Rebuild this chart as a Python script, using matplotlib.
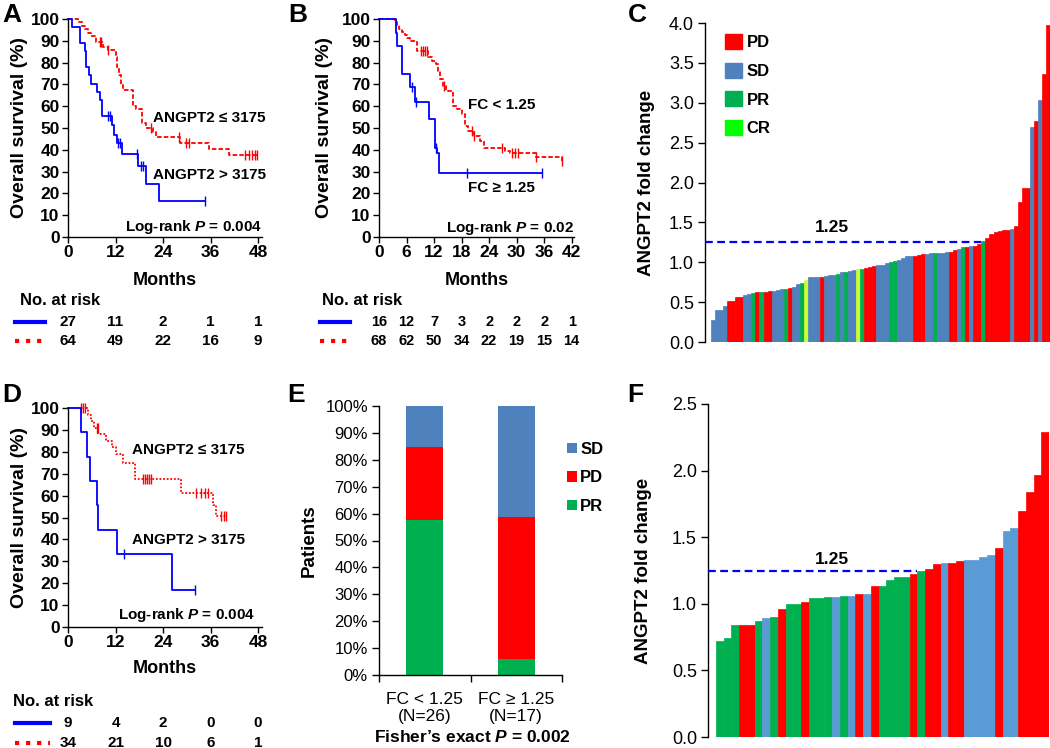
import matplotlib
matplotlib.use('Agg')
import matplotlib.pyplot as plt
import matplotlib.transforms as mtransforms
from matplotlib.lines import Line2D
from matplotlib.patches import Patch
from matplotlib.ticker import FormatStrFormatter
import numpy as np

plt.rcParams['font.family'] = ['Liberation Sans', 'DejaVu Sans']
plt.rcParams['font.weight'] = 'bold'
plt.rcParams['axes.labelweight'] = 'bold'
plt.rcParams['axes.linewidth'] = 1.0
plt.rcParams['mathtext.fontset'] = 'custom'
plt.rcParams['mathtext.rm'] = 'Liberation Sans:bold'
plt.rcParams['mathtext.it'] = 'Liberation Sans:italic:bold'
plt.rcParams['mathtext.bf'] = 'Liberation Sans:bold'

W, H = 1050, 748
BLUE = '#0000FF'
RED = '#FF0000'
COLORS_C = {'PD': '#FF0000', 'SD': '#4F81BD', 'PR': '#00B050', 'CR': '#CCFF33'}
COLORS_F = {'PD': '#FF0000', 'SD': '#5B9BD5', 'PR': '#00B050'}
LEGEND_C = {'PD': '#FF0000', 'SD': '#4F81BD', 'PR': '#00B050', 'CR': '#00FF00'}

# ---- panel A: ANGPT2 baseline, all patients
a_hi_t = [0, 1.0, 3.1, 4.2, 4.6, 5.3, 5.9, 7.2, 8.0, 8.6, 11.2, 11.6, 12.5, 13.7, 17.7, 19.8, 23.0]
a_hi_s = [100, 96.3, 88.9, 85.2, 77.8, 74.1, 70.4, 66.7, 63.0, 55.6, 51.5, 46.8, 42.9, 38.1, 32.7, 24.5, 16.4]
a_hi_cens = [10.1, 10.7, 12.7, 13.1, 17.5, 18.5, 19.0, 34.7]
a_hi_end = 34.7
a_lo_t = [0, 2.6, 3.5, 4.2, 5.0, 5.8, 7.0, 8.8, 10.0, 12.0, 12.4, 12.8, 13.3, 13.9,
          16.4, 17.3, 18.6, 19.6, 21.5, 22.3, 28.2, 35.6, 40.7]
a_lo_s = [100, 98.4, 96.9, 95.3, 93.8, 92.2, 89.6, 87.0, 85.8, 82.7, 78.0, 74.3, 69.7, 67.4,
          60.2, 58.5, 52.1, 49.8, 48.1, 45.9, 43.2, 40.5, 37.5]
a_lo_cens = [8.0, 8.4, 10.2, 21.0, 28.0, 29.9, 30.5, 44.8, 45.6, 46.4, 47.2, 47.8]
a_lo_end = 47.8
a_risk_ticks = [0, 12, 24, 36, 48]
a_risk_hi = [27, 11, 2, 1, 1]
a_risk_lo = [64, 49, 22, 16, 9]

# ---- panel B: fold change, all patients
b_hi_t = [0, 3.6, 3.9, 5.1, 6.7, 7.8, 10.9, 12.1, 12.7, 13.1]
b_hi_s = [100, 93.75, 87.5, 75.0, 68.75, 61.9, 54.2, 40.6, 38.5, 29.4]
b_hi_cens = [7.3, 8.1, 12.4, 19.1, 35.5]
b_hi_end = 35.5
b_lo_t = [0, 3.4, 3.9, 4.4, 5.0, 5.6, 6.2, 6.8, 8.3, 10.7, 11.5, 12.4, 12.9, 13.4, 13.9,
          14.7, 16.1, 17.0, 18.0, 18.8, 19.5, 20.6, 22.0, 22.8, 27.5, 28.5, 34.2, 39.9]
b_lo_s = [100, 98.5, 97.1, 95.6, 94.1, 92.6, 91.2, 89.7, 85.3, 82.4, 80.9, 79.4, 76.0, 72.5, 69.1,
          67.2, 60.0, 58.5, 56.5, 51.0, 48.5, 46.5, 44.0, 41.0, 39.5, 38.5, 36.5, 35.0]
b_lo_cens = [9.2, 9.6, 10.0, 10.4, 14.1, 20.2, 20.8, 26.9, 29.0, 29.6, 30.2, 34.3, 39.9]
b_lo_end = 39.9
b_risk_ticks = [0, 6, 12, 18, 24, 30, 36, 42]
b_risk_hi = [16, 12, 7, 3, 2, 2, 2, 1]
b_risk_lo = [68, 62, 50, 34, 22, 19, 15, 14]

# ---- panel D: ANGPT2 baseline, subgroup
d_hi_t = [0, 3.4, 4.8, 5.5, 7.2, 7.6, 12.4, 26.3]
d_hi_s = [100, 88.9, 77.8, 66.7, 55.6, 44.4, 33.3, 16.7]
d_hi_cens = [14.1, 32.2]
d_hi_end = 32.2
d_lo_t = [0, 5.0, 5.8, 6.5, 7.6, 9.5, 11.0, 12.0, 13.8, 17.0, 28.5, 36.6, 37.5]
d_lo_s = [100, 97.0, 94.0, 91.0, 88.0, 85.0, 82.0, 78.8, 75.0, 67.5, 61.0, 55.5, 50.5]
d_lo_cens = [3.4, 3.8, 4.2, 7.2, 7.5, 19.0, 19.5, 20.0, 20.5, 21.0, 32.4, 33.5, 34.5, 35.4,
             38.7, 39.3, 40.0]
d_lo_end = 40.0
d_risk_ticks = [0, 12, 24, 36, 48]
d_risk_hi = [9, 4, 2, 0, 0]
d_risk_lo = [34, 21, 10, 6, 1]

# ---- panel C: waterfall of fold change, 84 patients
c_fc = [0.27, 0.40, 0.40, 0.45, 0.51, 0.51, 0.56, 0.57, 0.59, 0.60,
        0.615, 0.63, 0.63, 0.63, 0.645, 0.645, 0.65, 0.66, 0.67, 0.68,
        0.69, 0.73, 0.745, 0.775, 0.81, 0.815, 0.82, 0.82, 0.83, 0.835,
        0.84, 0.85, 0.88, 0.88, 0.89, 0.90, 0.91, 0.92, 0.93, 0.94,
        0.95, 0.96, 0.97, 0.99, 1.00, 1.01, 1.03, 1.05, 1.08, 1.08,
        1.08, 1.09, 1.10, 1.10, 1.11, 1.12, 1.12, 1.12, 1.13, 1.13,
        1.15, 1.17, 1.19, 1.19, 1.21, 1.21, 1.23, 1.265, 1.30, 1.36,
        1.38, 1.39, 1.40, 1.40, 1.42, 1.46, 1.75, 1.93, 1.93, 2.70,
        2.77, 3.03, 3.36, 3.97]
c_resp = ('SD SD SD SD PD PD PD PD SD SD PR PD PR PD PD SD SD SD PR PD '
          'SD SD PR CR SD SD SD PD SD SD SD PR SD PR SD SD CR PR PD PD '
          'PD SD SD SD PR PR SD SD SD SD PD PD PD SD SD PR SD SD SD PD '
          'PD SD PR PD SD PD PD PR PD PD PD PD PD PD SD PD PD PD PD SD '
          'PD SD PD PD').split()

# ---- panel E: response by fold change group (patient counts)
e_groups = ['FC < 1.25\n(N=26)', 'FC \u2265 1.25\n(N=17)']
e_pr = [15, 1]
e_pd = [7, 9]
e_sd = [4, 7]

# ---- panel F: waterfall of fold change, 43 patients
f_fc = [0.72, 0.74, 0.84, 0.84, 0.84, 0.87, 0.89, 0.90, 0.96, 1.00,
        1.00, 1.01, 1.04, 1.04, 1.05, 1.05, 1.06, 1.06, 1.07, 1.07,
        1.13, 1.13, 1.18, 1.20, 1.20, 1.22, 1.25, 1.26, 1.30, 1.31,
        1.31, 1.32, 1.33, 1.33, 1.35, 1.37, 1.42, 1.55, 1.57, 1.70,
        1.84, 1.97, 2.29]
f_resp = ('PR PR PR PD PD PR SD PR PD PR PR PD PR PR PR SD PR SD PD SD '
          'PD PR PR PR PR PD PR PD PD SD PD PD SD SD SD SD PD SD SD PD '
          'PD PD PD').split()

THRESHOLD = 1.25


def rect(left, top, right, bottom):
    """Axes rectangle from pixel edges (origin at the top left)."""
    return [left / W, 1 - bottom / H, (right - left) / W, (bottom - top) / H]


def km_curve(ax, times, surv, censor, end, color, ls):
    times = np.asarray(times, float)
    surv = np.asarray(surv, float)
    ax.step(np.append(times, end), np.append(surv, surv[-1]), where='post',
            color=color, ls=ls, lw=1.3, clip_on=False)
    cens = np.asarray(censor, float)
    cy = surv[np.searchsorted(times, cens, side='right') - 1]
    ax.plot(cens, cy, ls='none', marker='|', ms=7, mew=1.0, color=color, clip_on=False)


def km_axes(ax, xmax, xticks, xlab_y, ylab_x):
    ax.set_xlim(0, xmax)
    ax.set_ylim(0, 100)
    ax.set_xticks(xticks)
    ax.set_yticks(range(0, 101, 10))
    for side in ('top', 'right'):
        ax.spines[side].set_visible(False)
    ax.tick_params(direction='out', length=4, width=1, labelsize=12.5, pad=2)
    ax.set_xlabel('Months', fontsize=13)
    ax.xaxis.set_label_coords(0.5, xlab_y)
    ax.set_ylabel('Overall survival (%)', fontsize=14)
    ax.yaxis.set_label_coords(ylab_x, 0.5)


def risk_table(fig, ax, ticks, hi, lo, x_title, y_title, y_rows, x_line, size=11):
    trans = mtransforms.blended_transform_factory(ax.transData, fig.transFigure)
    fig.text(x_title / W, 1 - y_title / H, 'No. at risk', fontsize=12, va='center')
    for counts, color, ls, y in ((hi, BLUE, '-', y_rows[0]), (lo, RED, ':', y_rows[1])):
        fig.add_artist(Line2D([x_line[0] / W, x_line[1] / W], [1 - y / H] * 2,
                              color=color, ls=ls, lw=3))
        for t, n in zip(ticks, counts):
            fig.text(t, 1 - y / H, str(n), transform=trans, ha='center', va='center',
                     fontsize=size)


def waterfall(ax, values, resp, colors, xpad, ymax, ystep, label_xy, ylab_x):
    values = np.asarray(values)
    x = np.arange(len(values))
    cols = [colors[r] for r in resp]
    ax.bar(x, values, width=1.0, color=cols, edgecolor=cols, lw=0.5)
    ax.set_xlim(-xpad, len(values) - 0.5)
    ax.set_ylim(0, ymax)
    ax.set_yticks(np.arange(0, ymax + 0.01, ystep))
    ax.yaxis.set_major_formatter(FormatStrFormatter('%.1f'))
    ax.set_xticks([])
    for side in ('top', 'right', 'bottom'):
        ax.spines[side].set_visible(False)
    ax.tick_params(axis='y', direction='out', length=5, width=1, labelsize=13, pad=3)
    for lbl in ax.get_yticklabels():
        lbl.set_fontweight('normal')
    first = int(np.argmax(values >= THRESHOLD))
    ax.hlines(THRESHOLD, -xpad, first - 0.5, colors=BLUE, linestyles=(0, (3.5, 2)), lw=1.6,
              zorder=3)
    ax.text(label_xy[0], label_xy[1], f'{THRESHOLD:.2f}', ha='center', va='center',
            fontsize=12.5)
    ax.set_ylabel('ANGPT2 fold change', fontsize=13.5)
    ax.yaxis.set_label_coords(ylab_x, 0.5)


fig = plt.figure(figsize=(W / 100, H / 100), dpi=100)

# panel letters
for letter, (px, py) in zip('ABCDEF', [(2, 22), (288, 22), (628, 22),
                                        (2, 402), (287, 402), (627, 402)]):
    fig.text(px / W, 1 - py / H, letter, fontsize=19, va='baseline', ha='left')

# ---- A
ax_a = fig.add_axes(rect(68, 19, 262, 237))
km_curve(ax_a, a_lo_t, a_lo_s, a_lo_cens, a_lo_end, RED, (0, (2.5, 1.2)))
km_curve(ax_a, a_hi_t, a_hi_s, a_hi_cens, a_hi_end, BLUE, '-')
km_axes(ax_a, 49, [0, 12, 24, 36, 48], -0.16, -0.205)
ax_a.text(21.5, 54.6, 'ANGPT2 \u2264 3175', fontsize=11, va='center')
ax_a.text(21.5, 28.4, 'ANGPT2 > 3175', fontsize=11, va='center')
ax_a.text(49, 4.6, 'Log-rank $P$ = 0.004', fontsize=11, va='center', ha='right')
risk_table(fig, ax_a, a_risk_ticks, a_risk_hi, a_risk_lo, 20, 300, (322, 341), (15, 45))

# ---- B
ax_b = fig.add_axes(rect(379, 19, 574, 237))
km_curve(ax_b, b_lo_t, b_lo_s, b_lo_cens, b_lo_end, RED, (0, (2.5, 1.2)))
km_curve(ax_b, b_hi_t, b_hi_s, b_hi_cens, b_hi_end, BLUE, '-')
km_axes(ax_b, 42.5, list(range(0, 43, 6)), -0.16, -0.236)
ax_b.text(19.4, 60.5, 'FC < 1.25', fontsize=11, va='center')
ax_b.text(19.4, 22.5, 'FC \u2265 1.25', fontsize=11, va='center')
ax_b.text(42.6, 4.1, 'Log-rank $P$ = 0.02', fontsize=11, va='center', ha='right')
risk_table(fig, ax_b, b_risk_ticks, b_risk_hi, b_risk_lo, 322, 300, (322, 341), (320, 350),
           size=10.5)

# ---- D
ax_d = fig.add_axes(rect(68, 408, 262, 627))
km_curve(ax_d, d_lo_t, d_lo_s, d_lo_cens, d_lo_end, RED, (0, (1.0, 1.0)))
km_curve(ax_d, d_hi_t, d_hi_s, d_hi_cens, d_hi_end, BLUE, '-')
km_axes(ax_d, 49, [0, 12, 24, 36, 48], -0.15, -0.205)
ax_d.text(16.1, 80.8, 'ANGPT2 \u2264 3175', fontsize=11, va='center')
ax_d.text(16.1, 39.7, 'ANGPT2 > 3175', fontsize=11, va='center')
ax_d.text(47.2, 5.5, 'Log-rank $P$ = 0.004', fontsize=11, va='center', ha='right')
risk_table(fig, ax_d, d_risk_ticks, d_risk_hi, d_risk_lo, 13, 702, (723, 743), (15, 50))

# ---- C
ax_c = fig.add_axes(rect(705, 23, 1050, 342))
waterfall(ax_c, c_fc, c_resp, COLORS_C, 2.0, 4.0, 0.5, (29.5, 1.43), -0.145)
ax_c.legend(handles=[Patch(color=c, label=k) for k, c in LEGEND_C.items()],
            loc='upper left', bbox_to_anchor=(0.058, 0.965), frameon=False,
            fontsize=12, handlelength=1.0, handleheight=1.0, handletextpad=0.3,
            labelspacing=0.75, borderpad=0, borderaxespad=0)

# ---- E
ax_e = fig.add_axes(rect(379, 406, 562, 675))
e_total = np.array(e_pr) + np.array(e_pd) + np.array(e_sd)
x = np.arange(len(e_groups))
bottom = np.zeros(len(e_groups))
handles = []
for name, counts in (('PR', e_pr), ('PD', e_pd), ('SD', e_sd)):
    pct = np.array(counts) / e_total * 100
    bars = ax_e.bar(x, pct, bottom=bottom, width=0.4, color=COLORS_C[name], label=name)
    handles.append(bars)
    bottom += pct
ax_e.set_xlim(-0.5, 1.5)
ax_e.set_ylim(0, 100)
ax_e.set_yticks(range(0, 101, 10))
ax_e.set_yticklabels([f'{v}%' for v in range(0, 101, 10)], fontweight='normal')
ax_e.set_xticks([-0.5, 0.5, 1.5])
ax_e.set_xticklabels([])
ax_e.set_xticks(x, minor=True)
ax_e.set_xticklabels(e_groups, minor=True, fontweight='normal', fontsize=12.5,
                     linespacing=1.2)
ax_e.tick_params(axis='x', which='minor', length=0, pad=12)
ax_e.tick_params(axis='both', which='major', direction='out', length=5, width=1,
                 labelsize=12, pad=3)
for side in ('top', 'right'):
    ax_e.spines[side].set_visible(False)
ax_e.set_ylabel('Patients', fontsize=13.5)
ax_e.yaxis.set_label_coords(-0.333, 0.5)
fig.legend(handles=handles[::-1], labels=['SD', 'PD', 'PR'], loc='upper left',
           bbox_to_anchor=(567 / W, 1 - 442 / H), frameon=False, fontsize=12,
           handlelength=0.6, handleheight=0.6, handletextpad=0.2, labelspacing=0.8,
           borderpad=0, borderaxespad=0)
fig.text(472 / W, 1 - 737 / H, 'Fisher\u2019s exact $P$ = 0.002', fontsize=12.5,
         ha='center', va='center')

# ---- F
ax_f = fig.add_axes(rect(708, 404, 1049, 737))
waterfall(ax_f, f_fc, f_resp, COLORS_F, 1.53, 2.5, 0.5, (14.5, 1.33), -0.164)

fig.savefig('out.png', dpi=100)
plt.close(fig)
